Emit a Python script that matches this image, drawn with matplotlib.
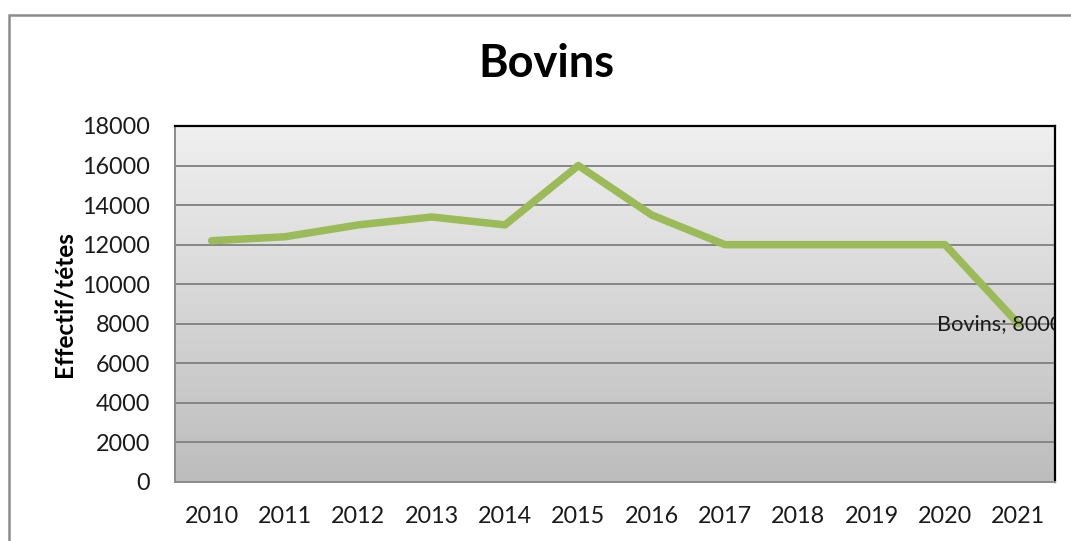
import numpy as np
import matplotlib
matplotlib.use("Agg")
import matplotlib.pyplot as plt
from matplotlib.patches import Rectangle

years = ["2010", "2011", "2012", "2013", "2014", "2015",
         "2016", "2017", "2018", "2019", "2020", "2021"]
bovins = [12200, 12400, 13000, 13400, 13000, 16000,
          13500, 12000, 12000, 12000, 12000, 8000]
y_ticks = [0, 2000, 4000, 6000, 8000, 10000, 12000, 14000, 16000, 18000]

series_name = "Bovins"
title = "Bovins"
y_label = "Effectif/tétes"

W, H, DPI = 1071, 541, 100
fig = plt.figure(figsize=(W / DPI, H / DPI), dpi=DPI)
fig.patch.set_facecolor("white")
plt.rcParams["font.family"] = ["Lato", "DejaVu Sans"]

# chart frame (extends past the right/bottom edges)
fig.add_artist(Rectangle((9 / W, -0.1), 1.2, (H - 15) / H + 0.1,
                         transform=fig.transFigure, fill=False,
                         edgecolor="#8c8c8c", linewidth=1.8))

left, right, top, bottom = 175, 1055, 126, 482
ax = fig.add_axes([left / W, (H - bottom) / H, (right - left) / W, (bottom - top) / H])

x = np.arange(len(years))
ax.set_xlim(-0.5, len(years) - 0.5)
ax.set_ylim(0, 18000)

# vertical gradient background of the plot area
grad = np.linspace(0, 1, 256).reshape(-1, 1)
top_c = np.array([0.94, 0.94, 0.94])
bot_c = np.array([0.74, 0.74, 0.74])
img = top_c * (1 - grad[..., None]) + bot_c * grad[..., None]
img = img.reshape(256, 1, 3)
ax.imshow(img, extent=[-0.5, len(years) - 0.5, 0, 18000], origin="upper",
          aspect="auto", zorder=0, interpolation="bilinear")

for yv in y_ticks[1:-1]:
    ax.axhline(yv, color="#868686", linewidth=1.4, zorder=1)

ax.plot(x, bovins, color="#9bbb59", linewidth=5.4, solid_capstyle="round",
        solid_joinstyle="round", zorder=3)

ax.text(x[-1] - 1.11, bovins[-1], f"{series_name}; {bovins[-1]}",
        fontsize=15.6, va="center", ha="left", color="#1a1a1a", zorder=4,
        clip_on=True)

for side in ["top", "right"]:
    ax.spines[side].set_color("black")
    ax.spines[side].set_linewidth(1.6)
for side in ["left", "bottom"]:
    ax.spines[side].set_color("#8c8c8c")
    ax.spines[side].set_linewidth(1.4)

ax.set_xticks(x)
ax.set_xticklabels(years)
ax.set_yticks(y_ticks)
ax.set_yticklabels([str(v) for v in y_ticks])
ax.tick_params(axis="both", length=0, labelsize=16.8, colors="#1a1a1a")
ax.tick_params(axis="x", pad=17)
ax.tick_params(axis="y", pad=18)

ax.set_ylabel(y_label, fontsize=17.5, fontweight="bold", labelpad=5)
fig.text(546 / W, 1 - 64 / H, title, fontsize=32.5, fontweight="bold",
         ha="center", va="center", color="black")

fig.savefig("out.png", dpi=DPI, facecolor="white")
